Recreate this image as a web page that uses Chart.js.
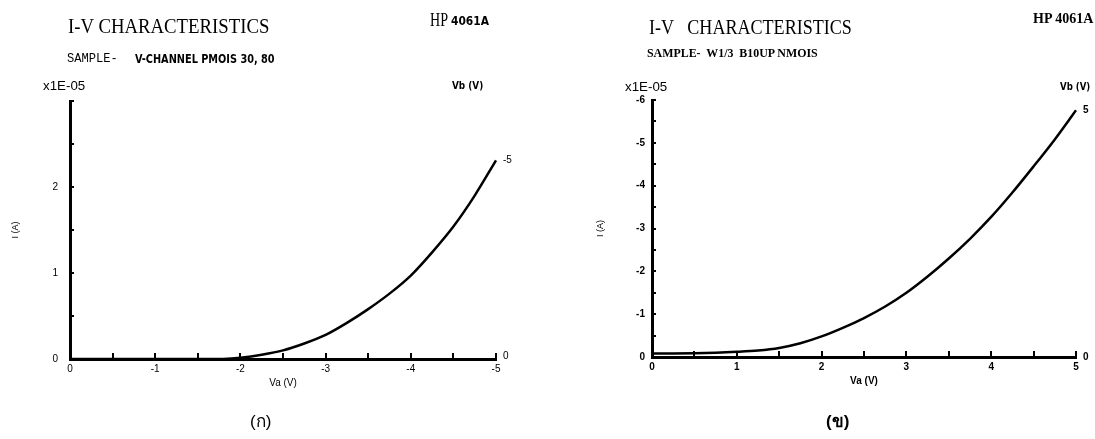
<!DOCTYPE html>
<html>
<head>
<meta charset="utf-8">
<script src="https://cdn.jsdelivr.net/npm/chart.js@4.4.0/dist/chart.umd.min.js"></script>
<style>
  body { margin: 0; background: #fff; width: 1095px; height: 439px; overflow: hidden; position: relative; }
  canvas { position: absolute; top: 0; }
  .t { position: absolute; white-space: pre; line-height: 1; color: #000; transform-origin: 0 0; }
  .serif { font-family: 'Liberation Serif', 'DejaVu Serif', serif; }
  .mono { font-family: 'Liberation Mono', 'DejaVu Sans Mono', monospace; }
  .sans { font-family: 'Liberation Sans', 'DejaVu Sans', sans-serif; }
  .narrow { font-family: 'Liberation Sans Narrow', 'DejaVu Sans Condensed', 'Liberation Sans', sans-serif; font-weight: bold; }
</style>
</head>
<body>
<canvas id="leftChart" width="547" height="439" style="left:0"></canvas>
<canvas id="rightChart" width="548" height="439" style="left:547px"></canvas>

<!-- left panel texts -->
<div class="t serif" style="left:68px; top:16px; font-size:21px" data-w="201">I-V CHARACTERISTICS</div>
<div class="t mono" style="left:67px; top:52px; font-size:13px" data-w="51">SAMPLE-</div>
<div class="t narrow" style="left:135px; top:52px; font-size:13px" data-w="140">V-CHANNEL PMOIS 30, 80</div>
<div class="t serif" style="left:430px; top:11px; font-size:18px" data-w="18">HP</div>
<div class="t narrow" style="left:451px; top:15px; font-size:12.5px" data-w="38">4061A</div>
<div class="t sans" style="left:43px; top:79px; font-size:13px" data-w="42">x1E-05</div>
<div class="t narrow" style="left:452px; top:80px; font-size:10.5px" data-w="31">Vb (V)</div>
<div class="t sans" style="left:250px; top:413px; font-size:17px">(ก)</div>

<!-- right panel texts -->
<div class="t serif" style="left:649px; top:17px; font-size:21px" data-w="203">I-V   CHARACTERISTICS</div>
<div class="t serif" style="left:647px; top:46px; font-size:13.5px; font-weight:bold" data-w="171">SAMPLE-  W1/3  B10UP NMOIS</div>
<div class="t serif" style="left:1033px; top:12px; font-size:14px; font-weight:bold" data-w="60">HP 4061A</div>
<div class="t sans" style="left:625px; top:80px; font-size:13px" data-w="42">x1E-05</div>
<div class="t narrow" style="left:1060px; top:81px; font-size:10.5px" data-w="30">Vb (V)</div>
<div class="t sans" style="left:826px; top:413px; font-size:17px; font-weight:bold">(ข)</div>

<script>
// ---- data ----

// left plot (PMOS), Va runs 0 .. -5
const leftVa = [0, -0.5, -1, -1.5, -1.8, -2, -2.25, -2.5, -2.75, -3, -3.25, -3.5, -3.75, -4, -4.25, -4.5, -4.75, -5];
const leftIvb5 = [0, 0, 0, 0, 0, 0.015, 0.05, 0.1, 0.18, 0.28, 0.42, 0.58, 0.76, 0.97, 1.24, 1.54, 1.9, 2.31];
const leftVaFlat = [0, -5];
const leftIvb0 = [0, 0];
const leftVbLabels = ['-5', '0'];
const leftXTickLabels = [0, -1, -2, -3, -4, -5];
const leftYTickLabels = [0, 1, 2];

// right plot (NMOS), Va runs 0 .. 5
const rightVa = [0, 0.5, 0.75, 1, 1.25, 1.5, 1.75, 2, 2.25, 2.5, 2.75, 3, 3.25, 3.5, 3.75, 4, 4.25, 4.5, 4.75, 5];
const rightIvb5 = [-0.08, -0.09, -0.1, -0.12, -0.15, -0.21, -0.32, -0.48, -0.68, -0.91, -1.18, -1.5, -1.88, -2.3, -2.76, -3.27, -3.84, -4.45, -5.08, -5.76];
const rightVaFlat = [0, 5];
const rightIvb0 = [0, 0];
const rightVbLabels = ['5', '0'];
const rightXTickLabels = [0, 1, 2, 3, 4, 5];
const rightYTickLabels = [0, -1, -2, -3, -4, -5, -6];

// fit the header texts to the widths in the scan
document.querySelectorAll('.t[data-w]').forEach(el => {
    const w = parseFloat(el.dataset.w);
    el.style.transform = 'scaleX(' + (w / el.offsetWidth) + ')';
});

function toPoints(xs, ys) {
    return xs.map((x, i) => ({x: x, y: ys[i]}));
}

// tick marks pointing into the plot, like the plotter draws them
const inwardTicks = {
    id: 'inwardTicks',
    afterDraw(chart, args, opts) {
        const ctx = chart.ctx;
        const area = chart.chartArea;
        const xs = chart.scales.x;
        const ys = chart.scales.y;
        ctx.save();
        ctx.strokeStyle = '#000';
        ctx.lineWidth = 2;
        ctx.beginPath();
        xs.ticks.forEach(t => {
            const px = Math.round(xs.getPixelForValue(t.value));
            ctx.moveTo(px, area.bottom);
            ctx.lineTo(px, area.bottom - opts.xLen);
        });
        ys.ticks.forEach(t => {
            const py = Math.round(ys.getPixelForValue(t.value));
            ctx.moveTo(area.left, py);
            ctx.lineTo(area.left + opts.yLen, py);
        });
        ctx.stroke();
        ctx.restore();
    }
};

// Vb value written at the end of each curve
const endLabels = {
    id: 'endLabels',
    afterDatasetsDraw(chart, args, opts) {
        const ctx = chart.ctx;
        ctx.save();
        ctx.font = opts.font;
        ctx.fillStyle = '#000';
        ctx.textBaseline = 'middle';
        chart.data.datasets.forEach((ds, i) => {
            const pts = chart.getDatasetMeta(i).data;
            const last = pts[pts.length - 1];
            ctx.fillText(ds.label, last.x + opts.offset, last.y + (ds.labelDy || 0));
        });
        ctx.restore();
    }
};

function makeChart(id, s) {
    const curve = {
        label: s.vbLabels[0],
        data: toPoints(s.va, s.i5),
        showLine: true,
        borderColor: '#000',
        borderWidth: 2.5,
        pointRadius: 0,
        tension: 0.3,
        clip: false
    };
    const flat = {
        label: s.vbLabels[1],
        data: toPoints(s.vaFlat, s.i0),
        showLine: true,
        borderColor: '#000',
        borderWidth: 2,
        pointRadius: 0,
        clip: false,
        labelDy: s.flatDy
    };
    const tickFont = {family: 'Liberation Sans', size: 10, weight: s.weight};
    return new Chart(document.getElementById(id), {
        type: 'scatter',
        data: {datasets: [curve, flat]},
        options: {
            responsive: false,
            animation: false,
            layout: {padding: s.padding},
            plugins: {
                legend: {display: false},
                tooltip: {enabled: false},
                inwardTicks: {xLen: 6, yLen: 4},
                endLabels: {font: s.weight + ' 10px "Liberation Sans"', offset: 7}
            },
            scales: {
                x: {
                    type: 'linear',
                    min: s.xMin, max: s.xMax,
                    reverse: s.xReverse,
                    afterFit: sc => { sc.height = 30; },
                    grid: {display: false, drawTicks: false},
                    border: {display: true, color: '#000', width: 3},
                    ticks: {
                        stepSize: 0.5, autoSkip: false, maxRotation: 0,
                        color: '#000', font: tickFont, padding: 4,
                        callback: v => s.xLabels.includes(v) ? String(v) : ''
                    },
                    title: {display: true, text: 'Va (V)', color: '#000', padding: 0,
                            font: {family: 'Liberation Sans', size: 10, weight: s.weight}}
                },
                y: {
                    type: 'linear',
                    min: s.yMin, max: s.yMax,
                    reverse: s.yReverse,
                    afterFit: sc => { sc.width = s.yWidth; },
                    grid: {display: false, drawTicks: false},
                    border: {display: true, color: '#000', width: 3},
                    ticks: {
                        stepSize: 0.5, autoSkip: false,
                        color: '#000', font: tickFont, padding: s.yPad,
                        callback: v => s.yLabels.includes(v) ? String(v) : ''
                    },
                    title: {display: true, text: 'I (A)', color: '#000', padding: 0,
                            font: {family: 'Liberation Sans', size: 9}}
                }
            }
        },
        plugins: [inwardTicks, endLabels]
    });
}

makeChart('leftChart', {
    va: leftVa, i5: leftIvb5, vaFlat: leftVaFlat, i0: leftIvb0,
    vbLabels: leftVbLabels, xLabels: leftXTickLabels, yLabels: leftYTickLabels,
    xMin: -5, xMax: 0, xReverse: true,
    yMin: 0, yMax: 3, yReverse: false,
    padding: {left: 10, right: 51, top: 101, bottom: 50},
    yWidth: 60, yPad: 12, weight: 'normal', flatDy: -3
});

makeChart('rightChart', {
    va: rightVa, i5: rightIvb5, vaFlat: rightVaFlat, i0: rightIvb0,
    vbLabels: rightVbLabels, xLabels: rightXTickLabels, yLabels: rightYTickLabels,
    xMin: 0, xMax: 5, xReverse: false,
    yMin: -6, yMax: 0, yReverse: true,
    padding: {left: 48, right: 19, top: 100, bottom: 52},
    yWidth: 57, yPad: 7, weight: 'bold', flatDy: 0
});
</script>
</body>
</html>
